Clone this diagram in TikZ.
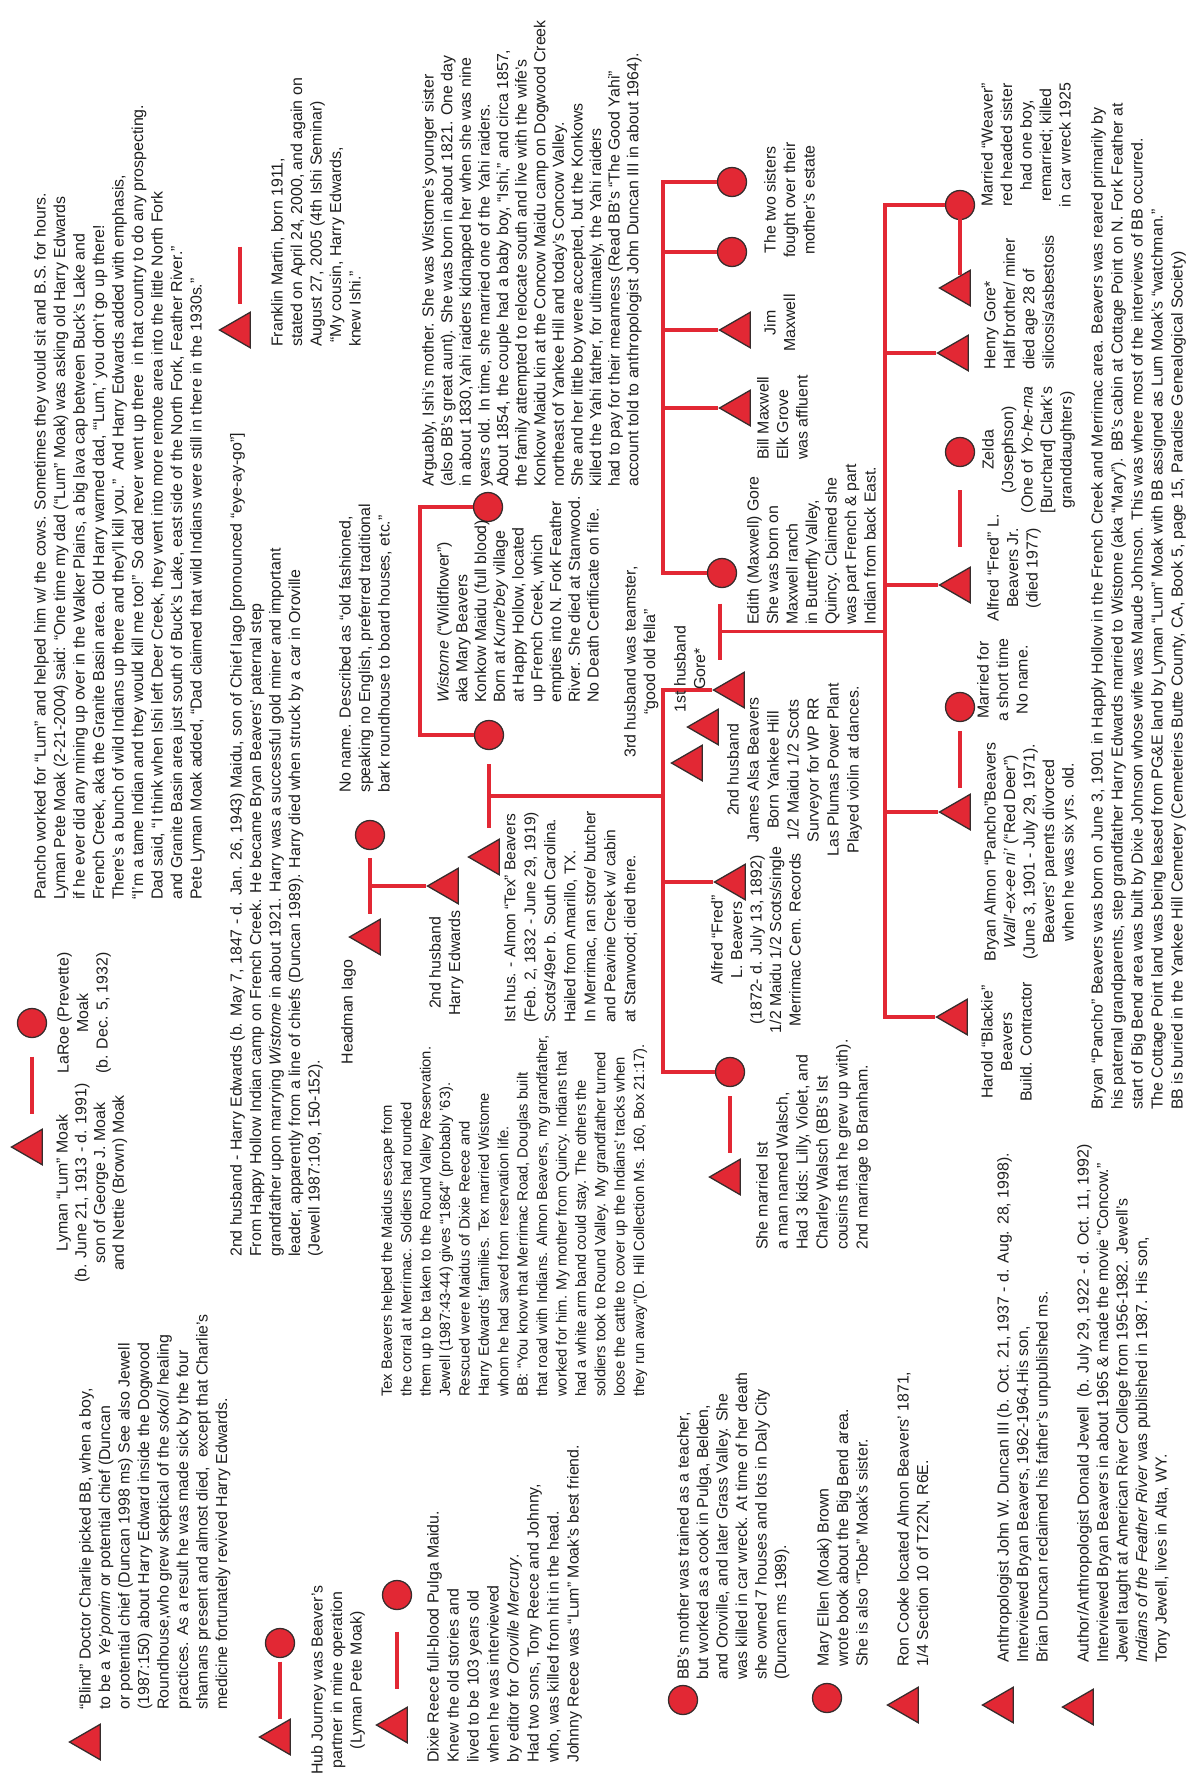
\documentclass[tikz,border=0pt]{standalone}
\usepackage{fontspec}
\setmainfont{Liberation Sans}
\usetikzlibrary{shapes.geometric, calc}
\definecolor{kinred}{RGB}{226, 40, 52}
\definecolor{symedge}{RGB}{55, 45, 45}
\definecolor{inkgray}{RGB}{30, 30, 30}

\begin{document}
\begin{tikzpicture}[
    x=1pt, y=1pt,
    kin/.style={draw=kinred, line width=3.4pt},
    male/.style={regular polygon, regular polygon sides=3, shape border rotate=90, draw=symedge, fill=kinred, line width=1.3pt, minimum size=41pt, inner sep=0pt},
    female/.style={circle, draw=symedge, fill=kinred, line width=1.3pt, minimum size=29pt, inner sep=0pt},
    note/.style={rotate=90, anchor=north west, align=left, inner sep=0pt, text=inkgray, font=\fontsize{15.9}{19.5}\selectfont},
    cnote/.style={note, anchor=north, align=center}
]
\useasboundingbox (0,0) rectangle (1201,-1775);

    \node[female] (sis1) at (732,-182) {};
    \node[female] (sis2) at (732,-252) {};
    \node[male] (jim) at (740,-330) {};
    \node[male] (bill) at (740,-408) {};
    \node[female] (edith) at (722,-573) {};
    \node[female] (ishimom) at (488,-507) {};
    \node[female] (wistome) at (489,-735) {};
    \node[male] (tex) at (489,-857) {};
    \node[female] (nn) at (370,-835) {};
    \node[male] (iago) at (370,-937) {};
    \node[male] (harry) at (448,-886) {};
    \node[male] (gore1) at (734,-690) {};
    \node[male] (husb2) at (708,-727) {};
    \node[male] (husb3) at (692,-763) {};
    \node[male] (fred) at (735,-882) {};
    \node[female] (walschw) at (730,-1072) {};
    \node[male] (walsch) at (730,-1177) {};
    \node[female] (redsis) at (960,-205) {};
    \node[male] (weaver) at (960,-288) {};
    \node[male] (henry) at (958,-353) {};
    \node[female] (zelda) at (960,-452) {};
    \node[male] (fredjr) at (960,-585) {};
    \node[female] (bbwife) at (960,-707) {};
    \node[male] (bb) at (960,-812) {};
    \node[male] (harold) at (957,-1017) {};
    \node[male] (franklin) at (240,-330) {};
    \coordinate (fmmate) at (240,-220);
    \node[female] (laroe) at (32,-1023) {};
    \node[male] (lyman) at (32,-1147) {};
    \node[female] (hubw) at (280,-1643) {};
    \node[male] (hub) at (280,-1737) {};
    \node[female] (dixiew) at (397,-1595) {};
    \node[male] (dixie) at (397,-1725) {};
    \node[male] (charlie) at (90,-1742) {};
    \node[female] (bbmom) at (683,-1700) {};
    \node[female] (maryellen) at (827,-1698) {};
    \node[male] (cooke) at (908,-1705) {};
    \node[male] (duncan) at (1003,-1705) {};
    \node[male] (jewell) at (1083,-1707) {};

    \coordinate (mxbar) at (663,0);
    \coordinate (isbar) at (420,0);
    \coordinate (wkbar) at (663,0);
    \coordinate (ekbar) at (885,0);
    \coordinate (m1) at ($(nn)!.5!(iago)$);
    \coordinate (m2) at ($(wistome)!.5!(tex)$);
    \coordinate (m3) at ($(edith)!.5!(gore1)-(8,0)$);

    \draw[kin] (sis1) -- (sis1 -| mxbar) |- (edith);
    \draw[kin] (sis2) -- (sis2 -| mxbar);
    \draw[kin] (jim) -- (jim -| mxbar);
    \draw[kin] (bill) -- (bill -| mxbar);
    \draw[kin] (ishimom) -- (ishimom -| isbar) |- (wistome);
    \draw[kin] ($(m1)+(0,28)$) -- ($(m1)-(0,28)$);
    \draw[kin] (m1) -- (harry);
    \draw[kin] ($(m2)+(0,32)$) -- ($(m2)-(0,32)$);
    \draw[kin] (m2) -- (m2 -| wkbar);
    \draw[kin] (gore1) -- (gore1 -| wkbar) |- (walschw);
    \draw[kin] (fred) -- (fred -| wkbar);
    \draw[kin] ($(m3)+(0,28)$) -- ($(m3)-(0,28)$);
    \draw[kin] (m3) -- (m3 -| ekbar);
    \draw[kin] (redsis) -- (redsis -| ekbar) |- (harold);
    \draw[kin] (henry) -- (henry -| ekbar);
    \draw[kin] (fredjr) -- (fredjr -| ekbar);
    \draw[kin] (bb) -- (bb -| ekbar);
    \foreach \a/\b in {franklin/fmmate, laroe/lyman, hubw/hub, dixiew/dixie, redsis/weaver, zelda/fredjr, bbwife/bb, walschw/walsch}
        \draw[kin] ($(\a)!.5!(\b)+(0,28.5)$) -- ($(\a)!.5!(\b)-(0,28.5)$);

    \node[note] (pancho) at (34,-900) {Pancho worked for “Lum” and helped him w/ the cows. Sometimes they would sit and B.S. for hours.\\
Lyman Pete Moak (2-21-2004) said: “One time my dad (“Lum” Moak) was asking old Harry Edwards\\
if he ever did any mining up over in the Walker Plains, a big lava cap between Buck's Lake and\\
French Creek, aka the Granite Basin area. Old Harry warned dad, “‘Lum,’ you don't go up there!\\
There's a bunch of wild Indians up there and they'll kill you.”\ \ And Harry Edwards added with emphasis,\\
“I'm a tame Indian and they would kill me too!” So dad never went up there\ \ in that country to do any prospecting.\\
Dad said, “I think when Ishi left Deer Creek, they went into more remote area into the little North Fork\\
and Granite Basin area just south of Buck's Lake, east side of the North Fork, Feather River.”\\
Pete Lyman Moak added, “Dad claimed that wild Indians were still in there in the 1930s.”};
    \node[note] (franktxt) at (271,-347) {Franklin Martin, born 1911,\\stated on April 24, 2000, and again on\\August 27, 2005 (4th Ishi Seminar)\\\ “My cousin, Harry Edwards,\\knew Ishi.”};
    \node[note, font=\fontsize{15.9}{18.6}\selectfont] (ishitxt) at (422,-487) {Arguably, Ishi's mother. She was Wistome's younger sister\\
(also BB's great aunt). She was born in about 1821. One day\\
in about 1830,Yahi raiders kidnapped her when she was nine\\
years old. In time, she married one of the Yahi raiders.\\
About 1854, the couple had a baby boy, “Ishi,” and circa 1857,\\
the family attempted to relocate south and live with the wife's\\
Konkow Maidu kin at the Concow Maidu camp on Dogwood Creek\\
northeast of Yankee Hill and today's Concow Valley.\\
She and her little boy were accepted, but the Konkows\\
killed the Yahi father, for ultimately, the Yahi raiders\\
had to pay for their meanness (Read BB's “The Good Yahi”\\
account told to anthropologist John Duncan III in about 1964).};
    \node[note] (harrytxt) at (230,-1257) {2nd husband - Harry Edwards (b. May 7, 1847 - d. Jan. 26, 1943) Maidu, son of Chief Iago [pronounced “eye-ay-go”]\\
From Happy Hollow Indian camp on French Creek. He became Bryan Beavers' paternal step\\
grandfather upon marrying \textit{Wistome} in about 1921. Harry was a successful gold miner and important\\
leader, apparently from a line of chiefs (Duncan 1989). Harry died when struck by a car in Oroville\\
(Jewell 1987:109, 150-152).};
    \node[note] (nntxt) at (339,-793) {No name. Described as “old fashioned,\\speaking no English, preferred traditional\\bark roundhouse to board houses, etc.”};
    \node[cnote] (iagotxt) at (341,-1012) {Headman Iago};
    \node[cnote] (harrylbl) at (429,-963) {2nd husband\\Harry Edwards};
    \node[note, font=\fontsize{15.9}{18.75}\selectfont] (wistxt) at (437,-703) {\textit{Wistome} (“Wildflower”)\\aka Mary Beavers\\Konkow Maidu (full blood)\\Born at \textit{Kune'bey} village\\at Happy Hollow, located\\up French Creek, which\\empties into N. Fork Feather\\River. She died at Stanwood.\\No Death Certificate on file.};
    \node[note, font=\fontsize{15.5}{20}\selectfont] (textxt) at (504,-1023) {Ist hus. - Almon “Tex” Beavers\\(Feb. 2, 1832 - June 29, 1919)\\Scots/49er b. South Carolina.\\Hailed from Amarillo, TX.\\In Merrimac, ran store/ butcher\\and Peavine Creek w/ cabin\\at Stanwood; died there.};
    \node[cnote] (husb3txt) at (624,-662) {3rd husband was teamster,\\“good old fella”};
    \node[cnote] (gore1txt) at (674,-669) {1st husband\\Gore*};
    \node[cnote, font=\fontsize{15.9}{20}\selectfont] (husb2txt) at (727,-770) {2nd husband\\James Alsa Beavers\\Born Yankee Hill\\1/2 Maidu 1/2 Scots\\Surveyor for WP RR\\Las Plumas Power Plant\\Played violin at dances.};
    \node[cnote] (fredtxt) at (711,-940) {Alfred “Fred”\\L. Beavers\\(1872- d. July 13, 1892)\\1/2 Maidu 1/2 Scots/single\\Merrimac Cem. Records};
    \node[note, font=\fontsize{15.9}{20}\selectfont] (walschtxt) at (756,-1250) {She married Ist\\a man named Walsch,\\Had 3 kids: Lilly, Violet, and\\Charley Walsch (BB's Ist\\cousins that he grew up with).\\2nd marriage to Branham.};
    \node[note] (edithtxt) at (747,-625) {Edith (Maxwell) Gore\\She was born on\\Maxwell ranch\\in Butterfly Valley,\\Quincy. Claimed she\\was part French \& part\\Indian from back East.};
    \node[note] (billtxt) at (757,-460) {Bill Maxwell\\Elk Grove\\was affluent};
    \node[cnote] (jimtxt) at (764,-323) {Jim\\Maxwell};
    \node[cnote] (sistxt) at (764,-200) {The two sisters\\fought over their\\mother's estate};
    \node[cnote] (weavertxt) at (981,-145) {Married “Weaver”\\red headed sister\\had one boy,\\remarried; killed\\in car wreck 1925};
    \node[note] (henrytxt) at (984,-370) {Henry Gore*\\Half brother/ miner\\died age 28 of\\silicosis/asbestosis};
    \node[cnote] (zeldatxt) at (982,-450) {Zelda\\(Josephson)\\(One of \textit{Yo-he-ma}\\{[}Burchard] Clark's\\granddaughters)};
    \node[cnote] (fredjrtxt) at (987,-568) {Alfred “Fred” L.\\Beavers Jr.\\(died 1977)};
    \node[cnote] (bbwifetxt) at (977,-680) {Married for\\a short time\\No name.};
    \node[cnote] (bbtxt) at (984,-852) {Bryan Almon “Pancho”Beavers\\\textit{Wall'-ex-ee ni'} (“Red Deer”)\\(June 3, 1901 - July 29, 1971).\\Beavers' parents divorced\\when he was six yrs. old.};
    \node[cnote] (haroldtxt) at (981,-1042) {Harold “Blackie”\\Beavers\\Build. Contractor};
    \node[note, font=\fontsize{15.9}{20}\selectfont] (bbbio) at (1091,-1110) {Bryan “Pancho” Beavers was born on June 3, 1901 in Happly Hollow in the French Creek and Merrimac area. Beavers was reared primarily by\\
his paternal grandparents, step grandfather Harry Edwards married to Wistome (aka “Mary”). BB's cabin at Cottage Point on N. Fork Feather at\\
start of Big Bend area was built by Dixie Johnson whose wife was Maude Johnson. This was where most of the interviews of BB occurred.\\
The Cottage Point land was being leased from PG\&E land by Lyman “Lum” Moak with BB assigned as Lum Moak's “watchman.”\\
BB is buried in the Yankee Hill Cemetery (Cemeteries Butte County, CA, Book 5, page 15, Paradise Genealogical Society)};
    \node[cnote, font=\fontsize{15.9}{18.7}\selectfont] (lymantxt) at (56,-1183) {Lyman “Lum” Moak\\(b. June 21, 1913 - d. 1991)\\son of George J. Moak\\and Nettie (Brown) Moak};
    \node[cnote] (laroetxt) at (57,-1013) {LaRoe (Prevette)\\Moak\\(b. Dec. 5, 1932)};
    \node[note] (charlietxt) at (79,-1710) {“Blind” Doctor Charlie picked BB, when a boy,\\
to be a \textit{Ye'ponim} or potential chief (Duncan\\
or potential chief (Duncan 1998 ms) See also Jewell\\
(1987:150) about Harry Edward inside the Dogwood\\
Roundhouse,who grew skeptical of the \textit{sokol}/ healing\\
practices. As a result he was made sick by the four\\
shamans present and almost died,\ \ except that Charlie's\\
medicine fortunately revived Harry Edwards.};
    \node[cnote] (hubtxt) at (311,-1680) {Hub Journey was Beaver's\\partner in mine operation\\(Lyman Pete Moak)};
    \node[note, font=\fontsize{15.9}{20}\selectfont] (dixietxt) at (427,-1763) {Dixie Reece full-blood Pulga Maidu.\\Knew the old stories and\\lived to be 103 years old\\when he was interviewed\\by editor for \textit{Oroville Mercury}.\\Had two sons, Tony Reece and Johnny,\\who, was killed from hit in the head.\\Johnny Reece was “Lum” Moak's best friend.};
    \node[note, font=\fontsize{14.8}{19.4}\selectfont] (texstory) at (381,-1397) {Tex Beavers helped the Maidus escape from\\the corral at Merrimac. Soldiers had rounded\\them up to be taken to the Round Valley Reservation.\\Jewell (1987:43-44) gives “1864” (probably '63).\\Rescued were Maidus of Dixie Reece and\\Harry Edwards' families. Tex married Wistome\\whom he had saved from reservation life.\\BB: “You know that Merrimac Road, Douglas built\\that road with Indians. Almon Beavers, my grandfather,\\worked for him. My mother from Quincy. Indians that\\had a white arm band could stay. The others the\\soldiers took to Round Valley. My grandfather turned\\loose the cattle to cover up the Indians' tracks when\\they run away”(D. Hill Collection Ms. 160, Box 21:17).};
    \node[note] (bbmomtxt) at (677,-1680) {BB's mother was trained as a teacher,\\but worked as a cook in Pulga, Belden,\\and Oroville, and later Grass Valley. She\\was killed in car wreck. At time of her death\\she owned 7 houses and lots in Daly City\\(Duncan ms 1989).};
    \node[note] (marytxt) at (817,-1667) {Mary Ellen (Moak) Brown\\wrote book about the Big Bend area.\\She is also “Tobe” Moak's sister.};
    \node[note] (cooketxt) at (897,-1667) {Ron Cooke located Almon Beavers' 1871,\\1/4 Section 10 of T22N, R6E.};
    \node[note] (duncantxt) at (997,-1663) {Anthropologist John W. Duncan III (b. Oct. 21, 1937 - d. Aug. 28, 1998).\\Interviewed Bryan Beavers, 1962-1964.His son,\\Brian Duncan reclaimed his father's unpublished ms.};
    \node[note] (jewelltxt) at (1077,-1663) {Author/Anthropologist Donald Jewell\ \ (b. July 29, 1922 - d. Oct. 11, 1992)\\Interviewed Bryan Beavers in about 1965 \& made the movie “Concow.”\\Jewell taught at American River College from 1956-1982. Jewell's\\\textit{Indians of the Feather River} was published in 1987. His son,\\Tony Jewell, lives in Alta, WY.};
\end{tikzpicture}
\end{document}
